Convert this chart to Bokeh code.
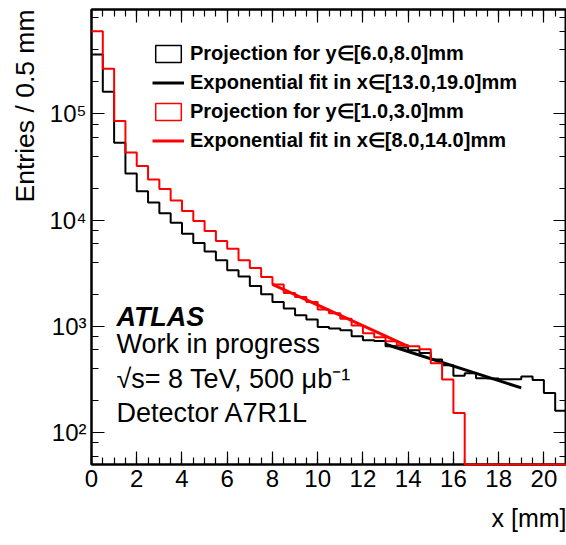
import numpy as np
from bokeh.plotting import figure
from bokeh.models import (LogAxis, LinearAxis, Range1d, SingleIntervalTicker, LogTicker,
                          CustomJSTickFormatter, Legend, LegendItem, Label, Title)
from bokeh.embed import file_html
from bokeh.resources import INLINE

# Histogram binning (x in mm)
bin_width = 0.5
x_min, x_max = 0.0, 21.0
y_min, y_max = 50.0, 9.6e5

# Projection for y in [6.0, 8.0] mm  (entries per 0.5 mm bin)
proj_y6_8 = [3.62e5, 1.61e5, 5.35e4, 2.75e4, 1.87e4, 1.46e4, 1.16e4, 9460, 7450, 6080,
             5050, 4180, 3370, 2950, 2390, 2000, 1690, 1470, 1270, 1160,
             985, 951, 917, 805, 739, 727, 648, 630, 595, 561,
             486, 430, 342, 361, 324, 322, 317, 317, 336, 312,
             236, 160]

# Projection for y in [1.0, 3.0] mm
proj_y1_3 = [6.0e5, 2.66e5, 8.54e4, 4.33e4, 3.22e4, 2.41e4, 1.96e4, 1.53e4, 1.22e4, 9790,
             7880, 6340, 5380, 4180, 3530, 2910, 2470, 2060, 1890, 1690,
             1440, 1330, 1180, 1020, 859, 788, 722, 663, 648, 608,
             449, 315, 153, 0, 0, 0, 0, 0, 0, 0,
             0, 0]

# Exponential fits f(x) = exp(p0 + p1*x)
fit_black_range = [13.0, 19.0]
fit_black_p0, fit_black_p1 = 8.571, -0.1578
fit_red_range = [8.0, 14.0]
fit_red_p0, fit_red_p1 = 9.605, -0.2237

FONT = "Liberation Sans"

p = figure(width=566, height=545,
           x_range=Range1d(x_min, x_max), y_range=Range1d(y_min, y_max),
           y_axis_type="log", output_backend="svg", toolbar_location=None,
           min_border_left=91, min_border_right=0, min_border_top=9, min_border_bottom=81)
p.xgrid.visible = False
p.ygrid.visible = False
p.outline_line_color = "black"
p.outline_line_width = 2
p.background_fill_color = "white"
p.border_fill_color = "white"

sup = ('const s = {"0":"\u2070","1":"\u00b9","2":"\u00b2","3":"\u00b3","4":"\u2074",'
       '"5":"\u2075","6":"\u2076","7":"\u2077","8":"\u2078","9":"\u2079","-":"\u207b"};'
       'const e = Math.round(Math.log10(tick));'
       'return "10" + String(e).split("").map(c => s[c]).join("");')


def style_axis(ax, show_labels):
    ax.major_tick_in = 13
    ax.major_tick_out = 0
    ax.minor_tick_in = 7
    ax.minor_tick_out = 0
    ax.axis_line_width = 2
    ax.major_tick_line_width = 1.2
    ax.minor_tick_line_width = 1.2
    ax.axis_line_color = "black"
    ax.major_tick_line_color = "black"
    ax.minor_tick_line_color = "black"
    ax.major_label_text_font = FONT
    if show_labels:
        ax.major_label_text_font_size = "24px"
        ax.major_label_text_color = "black"
        ax.major_label_standoff = 5
    else:
        ax.formatter = CustomJSTickFormatter(code="return '';")
        ax.major_label_text_font_size = "1px"
        ax.major_label_standoff = 0


p.xaxis[0].ticker = SingleIntervalTicker(interval=2, num_minor_ticks=4)
p.yaxis[0].ticker = LogTicker(desired_num_ticks=6)
style_axis(p.xaxis[0], True)
style_axis(p.yaxis[0], True)
p.yaxis[0].formatter = CustomJSTickFormatter(code=sup)

top_axis = LinearAxis(ticker=SingleIntervalTicker(interval=2, num_minor_ticks=4))
style_axis(top_axis, False)
p.add_layout(top_axis, "above")
right_axis = LogAxis(ticker=LogTicker(desired_num_ticks=6))
style_axis(right_axis, False)
p.add_layout(right_axis, "right")

# Histogram outlines as steps (empty bins drawn on the axis floor)
edges = x_min + bin_width * np.arange(len(proj_y6_8) + 1)


def step_values(counts):
    v = np.maximum(np.asarray(counts, dtype=float), y_min)
    return np.append(v, v[-1])


black_hist = p.step(edges, step_values(proj_y6_8), mode="after", line_color="black", line_width=2)
red_hist = p.step(edges, step_values(proj_y1_3), mode="after", line_color="#ff0000", line_width=2,
                  level="overlay")

xr = np.array(fit_red_range)
red_fit = p.line(xr, np.exp(fit_red_p0 + fit_red_p1 * xr), line_color="#ff0000", line_width=3)
xb = np.array(fit_black_range)
black_fit = p.line(xb, np.exp(fit_black_p0 + fit_black_p1 * xb), line_color="black", line_width=3)

# Box symbols for the histogram legend entries (no drawable data of their own)
nan = [np.nan]
black_box = p.quad(left=nan, right=nan, top=nan, bottom=nan, fill_color=None,
                   line_color="black", line_width=1.5)
red_box = p.quad(left=nan, right=nan, top=nan, bottom=nan, fill_color=None,
                 line_color="#ff0000", line_width=1.5)

legend = Legend(items=[
    LegendItem(label="Projection for y\u2208[6.0,8.0]mm", renderers=[black_box]),
    LegendItem(label="Exponential fit in x\u2208[13.0,19.0]mm", renderers=[black_fit]),
    LegendItem(label="Projection for y\u2208[1.0,3.0]mm", renderers=[red_box]),
    LegendItem(label="Exponential fit in x\u2208[8.0,14.0]mm", renderers=[red_fit]),
], location=(61, 312), glyph_width=32, glyph_height=21, label_height=21,
    label_standoff=6, spacing=5, padding=0, margin=0,
    label_text_font=FONT, label_text_font_size="20px", label_text_font_style="bold",
    label_text_color="black", background_fill_alpha=0, border_line_alpha=0)
p.add_layout(legend, "center")

# Experiment labels
text_lines = [
    ("ATLAS", 1215, "bold italic"),
    ("Work in progress", 677, "normal"),
    ("\u221as= 8 TeV, 500 \u03bcb\u207b\u00b9", 317, "normal"),
    ("Detector A7R1L", 152, "normal"),
]
for txt, yv, style in text_lines:
    p.add_layout(Label(x=1.1, y=yv, text=txt, text_font=FONT, text_font_size="27px",
                       text_font_style=style, text_baseline="alphabetic", text_color="black"))

p.add_layout(Title(text="Entries / 0.5 mm", align="right", text_font=FONT,
                   text_font_size="26.5px", text_font_style="normal", text_color="black",
                   standoff=14), "left")
p.add_layout(Title(text="x [mm]", align="right", text_font=FONT,
                   text_font_size="25px", text_font_style="normal", text_color="black",
                   standoff=25), "below")

open("out.html", "w").write(file_html(p, INLINE))
